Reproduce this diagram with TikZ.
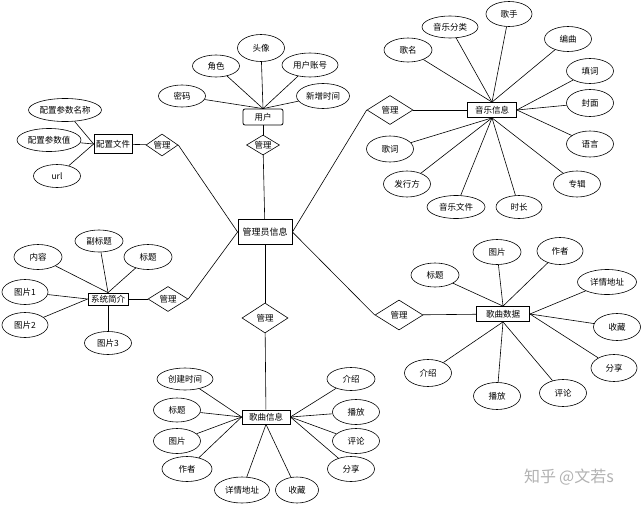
\documentclass[tikz,border=0pt]{standalone}
\usepackage{fontspec}
\setmainfont{Noto Sans CJK SC}
\usetikzlibrary{shapes.geometric}
\begin{document}
\begin{tikzpicture}[x=1pt,y=-1pt,
  lbl/.style={font=\fontsize{8.5}{10}\selectfont},
  attr/.style={lbl,draw,ellipse,inner sep=0pt,minimum width=47pt,minimum height=25pt,line width=0.6pt},
  ent/.style={lbl,draw,rectangle,inner sep=0pt,line width=0.8pt},
  rel/.style={lbl,draw,diamond,inner sep=0pt,aspect=1.6,line width=0.6pt},
  link/.style={line width=0.6pt}]
\useasboundingbox (0,0) rectangle (642,506);
\fill[white] (0,0) rectangle (642,506);

% ---------- user ----------
\node[ent,rounded corners=2pt,minimum width=40pt,minimum height=16pt] (U) at (263,117) {用户};
\node[rel,minimum width=33pt,minimum height=20pt] (mU) at (263,145) {管理};
\node[attr,minimum height=22pt] (u1) at (182,96) {密码};
\node[attr,minimum height=22pt] (u2) at (216,66) {角色};
\node[attr,minimum height=27pt] (u3) at (261,48) {头像};
\node[attr,minimum width=56pt,minimum height=24pt] (u4) at (310,65) {用户账号};
\node[attr,minimum width=53pt] (u5) at (323,96) {新增时间};
\foreach \n in {u1,u2,u3,u4,u5} \draw[link] (\n) -- (U.north);
\draw[link] (U) -- (mU);

% ---------- config ----------
\node[ent,minimum width=38pt,minimum height=19pt] (C) at (113,144) {配置文件};
\node[rel,minimum width=32pt,minimum height=22pt] (mC) at (162,145) {管理};
\node[attr,minimum width=73pt,minimum height=23pt] (c1) at (65,110) {配置参数名称};
\node[attr,minimum width=64pt,minimum height=23pt] (c2) at (49,140) {配置参数值};
\node[attr,minimum height=23pt] (c3) at (57,176) {url};
\foreach \n in {c1,c2,c3} \draw[link] (\n) -- (C.west);
\draw[link] (C) -- (mC);

% ---------- music ----------
\node[ent,minimum width=49pt,minimum height=15pt] (M) at (492,110) {音乐信息};
\node[rel,minimum width=46pt,minimum height=29pt] (mM) at (390,110) {管理};
\node[attr,minimum width=48pt,minimum height=24pt] (m1) at (408,50) {歌名};
\node[attr,minimum width=56pt,minimum height=22pt] (m2) at (450,27) {音乐分类};
\node[attr,minimum width=46pt] (m3) at (509,14) {歌手};
\node[attr] (m4) at (568,39) {编曲};
\node[attr] (m5) at (590,71) {填词};
\node[attr,minimum height=27pt] (m6) at (590,103) {封面};
\node[attr,minimum height=26pt] (m7) at (590,144) {语言};
\node[attr,minimum height=26pt] (m8) at (577,184) {专辑};
\node[attr,minimum width=46pt,minimum height=23pt] (m9) at (519,207) {时长};
\node[attr,minimum width=58pt,minimum height=23pt] (m10) at (456,207) {音乐文件};
\node[attr,minimum height=26pt] (m11) at (407,184) {发行方};
\node[attr,minimum height=26pt] (m12) at (390,149) {歌词};
\foreach \n in {m1,m2,m3,m4} \draw[link] (\n) -- (M.north);
\foreach \n in {m5,m6,m7} \draw[link] (\n) -- (M.east);
\foreach \n in {m8,m9,m10,m11,m12} \draw[link] (\n) -- (M.south);
\draw[link] (mM) -- (M);

% ---------- admin ----------
\node[ent,minimum width=54pt,minimum height=25pt,font=\fontsize{9}{10}\selectfont] (A) at (265,232) {管理员信息};
\node[rel,minimum width=46pt,minimum height=30pt] (mB) at (265,318) {管理};
\draw[link] (A) -- (mU);
\draw[link] (A.east) -- (mM.west);
\draw[link] (A.west) -- (mC.east);

% ---------- system intro ----------
\node[ent,minimum width=40pt,minimum height=12pt] (S) at (108,299) {系统简介};
\node[rel,minimum width=40pt,minimum height=25pt] (mS) at (168,299) {管理};
\node[attr,minimum width=48pt] (s1) at (38,257) {内容};
\node[attr,minimum width=48pt,minimum height=22pt] (s2) at (99,241) {副标题};
\node[attr,minimum width=48pt] (s3) at (148,257) {标题};
\node[attr,minimum width=46pt] (s4) at (25,292) {图片1};
\node[attr,minimum width=46pt] (s5) at (25,325) {图片2};
\node[attr,minimum height=23pt] (s6) at (108,343) {图片3};
\foreach \n in {s1,s2,s3} \draw[link] (\n) -- (S.north);
\foreach \n in {s4,s5} \draw[link] (\n) -- (S.west);
\draw[link] (s6) -- (S.south);
\draw[link] (S) -- (mS);
\draw[link] (A.west) -- (mS.east);

% ---------- song data ----------
\node[ent,minimum width=53pt,minimum height=15pt] (D) at (503,314) {歌曲数据};
\node[rel,minimum width=48pt,minimum height=30pt] (mD) at (399,315) {管理};
\node[attr,minimum width=48pt,minimum height=24pt] (d1) at (435,275) {标题};
\node[attr,minimum width=48pt] (d2) at (497,252) {图片};
\node[attr,minimum width=46pt,minimum height=27pt] (d3) at (560,251) {作者};
\node[attr,minimum width=59pt] (d4) at (607,282) {详情地址};
\node[attr,minimum height=27pt] (d5) at (617,327) {收藏};
\node[attr,minimum width=46pt,minimum height=27pt] (d6) at (614,368) {分享};
\node[attr,minimum height=27pt] (d7) at (563,393) {评论};
\node[attr,minimum height=27pt] (d8) at (497,396) {播放};
\node[attr,minimum height=27pt] (d9) at (428,373) {介绍};
\foreach \n in {d1,d2,d3} \draw[link] (\n) -- (D.north);
\foreach \n in {d4,d5,d6} \draw[link] (\n) -- (D.east);
\foreach \n in {d7,d8,d9} \draw[link] (\n) -- (D.south);
\draw[link] (mD) -- (D);
\draw[link] (A.east) -- (mD.west);

% ---------- song info ----------
\node[ent,minimum width=48pt,minimum height=14pt] (I) at (266,417) {歌曲信息};
\node[attr,minimum width=56pt,minimum height=22pt] (i1) at (185,379) {创建时间};
\node[attr,minimum height=24pt] (i2) at (177,410) {标题};
\node[attr] (i3) at (177,441) {图片};
\node[attr,minimum width=50pt] (i4) at (187,469) {作者};
\node[attr,minimum width=55pt,minimum height=26pt] (i5) at (242,490) {详情地址};
\node[attr,minimum width=43pt,minimum height=26pt] (i6) at (297,490) {收藏};
\node[attr,minimum width=48pt,minimum height=23pt] (i7) at (351,379) {介绍};
\node[attr] (i8) at (356,412) {播放};
\node[attr] (i9) at (356,441) {评论};
\node[attr] (i10) at (351,469) {分享};
\foreach \n in {i1,i2,i3,i4} \draw[link] (\n) -- (I.west);
\foreach \n in {i5,i6} \draw[link] (\n) -- (I.south);
\foreach \n in {i7,i8,i9,i10} \draw[link] (\n) -- (I.east);
\draw[link] (A) -- (mB);
\draw[link] (mB) -- (I);

% ---------- watermark ----------
\node[font=\fontsize{16}{18}\selectfont,text=black!30] (wm) at (569,477) {知乎\hspace{3pt}@文若s};
\end{tikzpicture}
\end{document}
